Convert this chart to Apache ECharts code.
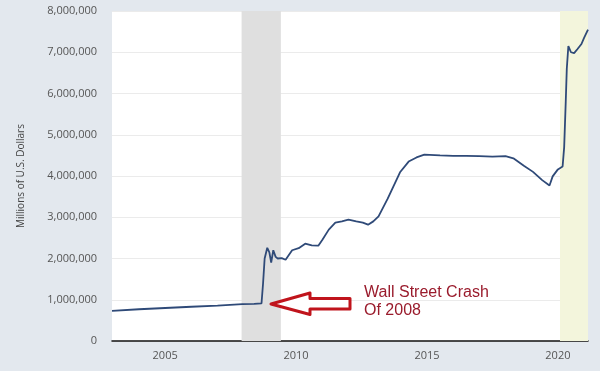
<!DOCTYPE html>
<html>
<head>
<meta charset="utf-8">
<script src="https://cdn.jsdelivr.net/npm/echarts@6/dist/echarts.min.js"></script>
<style>
html,body{margin:0;padding:0;background:#e3e8ee;}
#c{width:600px;height:371px;}
</style>
</head>
<body>
<div id="c"></div>
<script>
// Fed total assets (Millions of U.S. Dollars)
const years = [2002.97, 2004.0, 2005.0, 2006.0, 2007.0, 2007.95, 2008.4, 2008.68, 2008.74, 2008.8, 2008.9, 2008.98, 2009.05, 2009.13, 2009.22, 2009.3, 2009.45, 2009.6, 2009.85, 2010.1, 2010.35, 2010.6, 2010.85, 2011.0, 2011.25, 2011.5, 2011.75, 2012.0, 2012.3, 2012.55, 2012.75, 2012.95, 2013.15, 2013.5, 2013.97, 2014.3, 2014.6, 2014.9, 2015.5, 2016.0, 2016.5, 2017.0, 2017.5, 2018.0, 2018.3, 2018.7, 2019.05, 2019.4, 2019.68, 2019.8, 2020.0, 2020.18, 2020.24, 2020.3, 2020.34, 2020.4, 2020.5, 2020.62, 2020.75, 2020.9, 2021.0, 2021.15];
const assets = [730000, 770000, 800000, 830000, 860000, 895000, 900000, 910000, 1400000, 2000000, 2260000, 2150000, 1900000, 2200000, 2040000, 2000000, 2010000, 1970000, 2200000, 2250000, 2360000, 2320000, 2310000, 2450000, 2700000, 2870000, 2900000, 2940000, 2900000, 2870000, 2820000, 2900000, 3020000, 3450000, 4090000, 4350000, 4450000, 4520000, 4500000, 4490000, 4490000, 4480000, 4470000, 4480000, 4430000, 4250000, 4100000, 3900000, 3770000, 3990000, 4160000, 4230000, 4700000, 5800000, 6600000, 7150000, 7000000, 6980000, 7080000, 7200000, 7350000, 7550000];
const xTickYears = [2005, 2010, 2015, 2020];
const recessions = [[2007.92, 2009.42], [2020.08, 2021.15]];
const annotationText = ['Wall Street Crash', 'Of 2008'];

const chart = echarts.init(document.getElementById('c'));
chart.setOption({
  backgroundColor: '#e3e8ee',
  animation: false,
  grid: {left: 112, right: 12, top: 11, bottom: 30, show: true, backgroundColor: '#ffffff', borderWidth: 0},
  xAxis: {
    type: 'value', min: 2002.97, max: 2021.15,
    axisLine: {show: true, onZero: false, lineStyle: {color: '#111', width: 1.5}},
    axisTick: {show: false},
    splitLine: {show: false},
    axisLabel: {customValues: xTickYears, color: '#555', fontSize: 11, fontFamily: 'Open Sans', margin: 9, formatter: v => String(v)}
  },
  yAxis: {
    type: 'value', min: 0, max: 8000000, interval: 1000000,
    name: 'Millions of U.S. Dollars', nameLocation: 'middle', nameGap: 86, nameRotate: 90,
    nameTextStyle: {color: '#444', fontSize: 10, fontFamily: 'Open Sans'},
    axisLine: {show: false}, axisTick: {show: false},
    splitLine: {lineStyle: {color: '#ebebeb', width: 1}},
    axisLabel: {color: '#555', fontSize: 11, fontFamily: 'Open Sans', margin: 15,
      formatter: v => v.toLocaleString('en-US')}
  },
  series: [{
    type: 'line', showSymbol: false,
    data: years.map((y, i) => [y, assets[i]]),
    lineStyle: {color: '#2f4a78', width: 1.8},
    markArea: {silent: true, data: [
      [{xAxis: recessions[0][0], itemStyle: {color: '#dfdfdf'}}, {xAxis: recessions[0][1]}],
      [{xAxis: recessions[1][0], itemStyle: {color: '#f3f5dc'}}, {xAxis: recessions[1][1]}]
    ]}
  }],
  graphic: [
    {type: 'polygon', z: 100, shape: {points: [[271,304],[310,293],[310,298.5],[350,298.5],[350,309],[310,309],[310,314.5]]},
      style: {fill: '#ffffff', stroke: '#c0141c', lineWidth: 3, lineJoin: 'round'}},
    {type: 'text', z: 100, left: 364, top: 284, style: {text: annotationText.join('\n'), fill: '#9a1b2c', font: '16px "Liberation Sans"', lineHeight: 18}}
  ]
});
</script>
</body>
</html>
